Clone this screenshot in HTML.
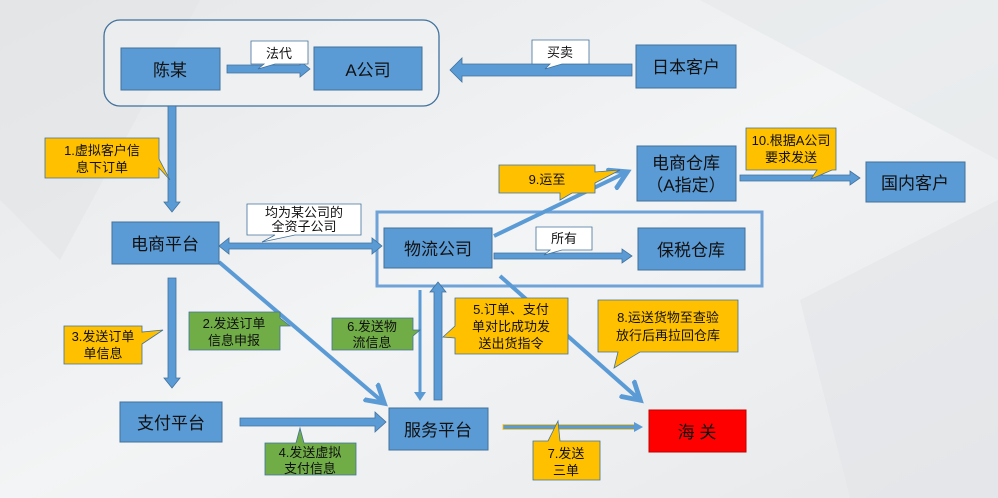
<!DOCTYPE html>
<html><head><meta charset="utf-8"><style>
body{margin:0;width:998px;height:498px;overflow:hidden;background:#eef0f2}
svg{display:block}
text{font-family:"Liberation Sans","Noto Sans CJK SC",sans-serif;fill:#111;text-anchor:middle}
</style></head><body>
<svg width="998" height="498" viewBox="0 0 998 498">
<defs>
<linearGradient id="bg" x1="0" y1="0" x2="1" y2="1"><stop offset="0" stop-color="#e4e6e8"/><stop offset="0.5" stop-color="#f3f4f5"/><stop offset="1" stop-color="#e6e8ea"/></linearGradient>
<marker id="ah" markerWidth="6" markerHeight="6" refX="4.5" refY="3" orient="auto" markerUnits="strokeWidth"><path d="M0,0.3 L4.6,3 L0,5.7" fill="none" stroke="#5b9bd5" stroke-width="1.2"/></marker>
</defs>
<rect width="998" height="498" fill="url(#bg)"/>
<polygon points="0,0 200,0 60,260 0,200" fill="#e2e4e6" opacity=".6"/>
<polygon points="700,0 998,0 998,160" fill="#e5e7e9" opacity=".6"/>
<polygon points="800,300 998,200 998,498 850,498" fill="#e3e5e7" opacity=".6"/>

<!-- containers -->
<rect x="104" y="20" width="335" height="86" rx="16" fill="#f2f4f6" fill-opacity=".5" stroke="#41719c" stroke-width="1.3"/>
<rect x="377" y="212" width="385" height="74" fill="none" stroke="#6fa3d8" stroke-width="3"/>

<!-- block arrows -->
<g fill="#5b9bd5" stroke="#41719c" stroke-width="0.8">
<polygon points="227,65 300,65 300,61 310,69 300,77 300,73 227,73"/>
<polygon points="632,64 462,64 462,58 450,70 462,82 462,76 632,76"/>
<polygon points="168,106 176,106 176,202 180,202 172,212 164,202 168,202"/>
<polygon points="229,243 372,243 372,238 382,246 372,254 372,249 229,249 229,254 219,246 229,238"/>
<polygon points="168,278 176,278 176,378 180,378 172,388 164,378 168,378"/>
<polygon points="240,418 375,418 375,412 386,422 375,432 375,426 240,426"/>
<polygon points="434,400 442,400 442,292 446,292 438,282 430,292 434,292"/>
<polygon points="494,253 622,253 622,249 632,256 622,263 622,259 494,259"/>
<polygon points="740,175 850,175 850,171 860,178 850,185 850,181 740,181"/>
</g>
<g stroke="#5b9bd5" stroke-width="4" fill="none" marker-end="url(#ah)">
<line x1="219" y1="262" x2="384" y2="403"/>
<line x1="494" y1="236" x2="627" y2="172"/>
<line x1="500" y1="276" x2="640" y2="400"/>
</g>
<line x1="420" y1="290" x2="420" y2="396" stroke="#5b9bd5" stroke-width="3"/>
<polygon points="414,392 426,392 420,401" fill="#5b9bd5"/>
<line x1="503" y1="427" x2="636" y2="427" stroke="#5b9bd5" stroke-width="4" />
<rect x="503" y="424.5" width="133" height="5" fill="none" stroke="#ffc000" stroke-width="0.8"/>
<polygon points="634,422 643,427 634,432" fill="#5b9bd5"/>

<!-- nodes -->
<g fill="#5b9bd5" stroke="#41719c" stroke-width="1">
<rect x="121" y="48" width="99" height="42"/>
<rect x="314" y="47" width="108" height="43"/>
<rect x="636" y="45" width="100" height="43"/>
<rect x="112" y="222" width="107" height="42"/>
<rect x="384" y="228" width="108" height="40"/>
<rect x="638" y="228" width="107" height="42"/>
<rect x="637" y="146" width="99" height="55"/>
<rect x="866" y="162" width="99" height="40"/>
<rect x="120" y="402" width="102" height="40"/>
<rect x="389" y="408" width="99" height="42"/>
</g>
<rect x="649" y="410" width="97" height="42" fill="#ff0000" stroke="#c00000"/>
<g font-size="17">
<text x="170" y="76">陈某</text>
<text x="368" y="76">A公司</text>
<text x="686" y="73">日本客户</text>
<text x="165" y="250">电商平台</text>
<text x="438" y="255">物流公司</text>
<text x="691" y="256">保税仓库</text>
<text x="686" y="169">电商仓库</text>
<text x="686" y="191">（A指定）</text>
<text x="915" y="189">国内客户</text>
<text x="171" y="429">支付平台</text>
<text x="438" y="436">服务平台</text>
<text x="697" y="438">海  关</text>
</g>

<!-- callouts -->
<g stroke="#41719c" stroke-width="0.8">
<path d="M251,41 H308 V64 H275 L258,69 L264,64 H251 Z" fill="#fff"/>
<path d="M532,40 H589 V64 H562 L545,69 L550,64 H532 Z" fill="#fff"/>
<path d="M247,204 H361 V235 H295 L262,242 L275,235 H247 Z" fill="#fff"/>
<path d="M536,227 H592 V250 H562 L544,255 L550,250 H536 Z" fill="#fff"/>
<path d="M45,138 H159 V159 L170,180 L159,168 V178 H45 Z" fill="#ffc000"/>
<path d="M499,165 H595 V172 L620,170 L595,183 V193 H572 L560,200 L560,193 H499 Z" fill="#ffc000"/>
<path d="M746,128 H836 V170 H832 L811,179 L817,170 H746 Z" fill="#ffc000"/>
<path d="M64,326 H142 V332 L163,330 L142,344 V364 H64 Z" fill="#ffc000"/>
<path d="M455,298 H568 V354 H455 V338 L443,337 L455,326 Z" fill="#ffc000"/>
<path d="M598,300 H738 V352 H640 L614,368 L618,352 H598 Z" fill="#ffc000"/>
<path d="M533,441 H548 L558,421 L560,441 H600 V480 H533 Z" fill="#ffc000"/>
<path d="M189,312 H280 V318 L290,326 L280,326 V350 H189 Z" fill="#70ad47"/>
<path d="M332,318 H413 V330 L420,330 L413,336 V350 H332 Z" fill="#70ad47"/>
<path d="M265,443 H296 L300,428 L304,443 H356 V475 H265 Z" fill="#70ad47"/>
</g>
<g font-size="13">
<text x="279" y="58">法代</text>
<text x="560" y="57">买卖</text>
<text x="304" y="217">均为某公司的</text>
<text x="304" y="231">全资子公司</text>
<text x="564" y="243">所有</text>
<text x="102" y="155">1.虚拟客户信</text>
<text x="102" y="172">息下订单</text>
<text x="547" y="184">9.运至</text>
<text x="791" y="145">10.根据A公司</text>
<text x="791" y="162">要求发送</text>
<text x="103" y="341">3.发送订单</text>
<text x="103" y="358">单信息</text>
<text x="511" y="314">5.订单、支付</text>
<text x="511" y="331">单对比成功发</text>
<text x="511" y="348">送出货指令</text>
<text x="668" y="322">8.运送货物至查验</text>
<text x="668" y="340">放行后再拉回仓库</text>
<text x="566" y="458">7.发送</text>
<text x="566" y="475">三单</text>
<text x="234" y="328">2.发送订单</text>
<text x="234" y="345">信息申报</text>
<text x="372" y="331">6.发送物</text>
<text x="372" y="347">流信息</text>
<text x="310" y="457">4.发送虚拟</text>
<text x="310" y="473">支付信息</text>
</g>
</svg>
</body></html>
